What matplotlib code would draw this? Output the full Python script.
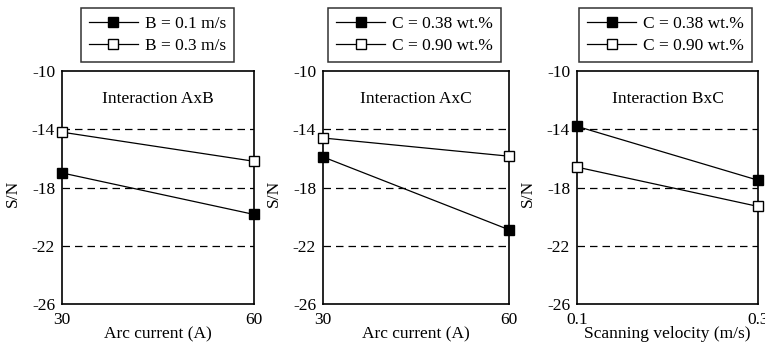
import matplotlib.pyplot as plt

plt.rcParams['font.family'] = ['Liberation Serif', 'DejaVu Serif']
plt.rcParams['font.size'] = 12.5

W, H = 765, 351

# data
x_ab = [30, 60]
ab_b01 = [-17.0, -19.85]
ab_b03 = [-14.2, -16.2]

x_ac = [30, 60]
ac_c038 = [-15.9, -20.9]
ac_c090 = [-14.6, -15.85]

x_bc = [0.1, 0.3]
bc_c038 = [-13.8, -17.5]
bc_c090 = [-16.6, -19.3]

yticks = [-10, -14, -18, -22, -26]

panels = [
    (x_ab, ab_b01, ab_b03, ["B = 0.1 m/s", "B = 0.3 m/s"], "Interaction AxB",
     "Arc current (A)", ["30", "60"], (62, 254), (79, 236)),
    (x_ac, ac_c038, ac_c090, ["C = 0.38 wt.%", "C = 0.90 wt.%"], "Interaction AxC",
     "Arc current (A)", ["30", "60"], (323, 509), (326, 503)),
    (x_bc, bc_c038, bc_c090, ["C = 0.38 wt.%", "C = 0.90 wt.%"], "Interaction BxC",
     "Scanning velocity (m/s)", ["0.1", "0.3"], (577, 758), (578, 753)),
]

fig = plt.figure(figsize=(W / 100, H / 100), dpi=100)

for xs, s1, s2, labels, title, xlabel, xtl, (l, r), (ll, lr) in panels:
    top, bot = 71, 304
    ax = fig.add_axes([l / W, 1 - bot / H, (r - l) / W, (bot - top) / H])
    ax.plot(xs, s1, color='black', lw=0.9, marker='s', ms=7.5,
            mfc='black', mec='black', clip_on=False, zorder=3)
    ax.plot(xs, s2, color='black', lw=0.9, marker='s', ms=7.5,
            mfc='white', mec='black', clip_on=False, zorder=3)
    ax.set_xlim(xs[0], xs[1])
    ax.set_ylim(-26, -10)
    ax.set_xticks(xs)
    ax.set_xticklabels(xtl)
    ax.set_yticks(yticks)
    ax.set_yticklabels([str(v) for v in yticks])
    ax.tick_params(axis='y', length=0, pad=5)
    ax.tick_params(axis='x', length=0, pad=6)
    for v in [-14, -18, -22]:
        ax.axhline(v, color='black', lw=0.9, ls=(0, (6, 4)), zorder=1)
    for sp in ax.spines.values():
        sp.set_linewidth(1.2)
    ax.set_ylabel("S/N")
    ax.yaxis.set_label_coords(-41 / (r - l), 0.476)
    ax.set_xlabel(xlabel)
    ax.xaxis.set_label_coords(0.5, (304 - 334) / (bot - top))
    ax.xaxis.label.set_va('center')
    ax.text(0.5, 0.88, title, transform=ax.transAxes, ha='center', va='center')
    leg = fig.legend(ax.lines[:2], labels,
                     loc='center', bbox_to_anchor=((ll + lr) / 2 / W, 1 - 35 / H),
                     frameon=True, fancybox=False, edgecolor='black',
                     handlelength=2.8, handletextpad=0.4, borderpad=0.45,
                     labelspacing=0.3, fontsize=12.5)
    leg.get_frame().set_linewidth(1.1)

fig.savefig("out.png", dpi=100)
